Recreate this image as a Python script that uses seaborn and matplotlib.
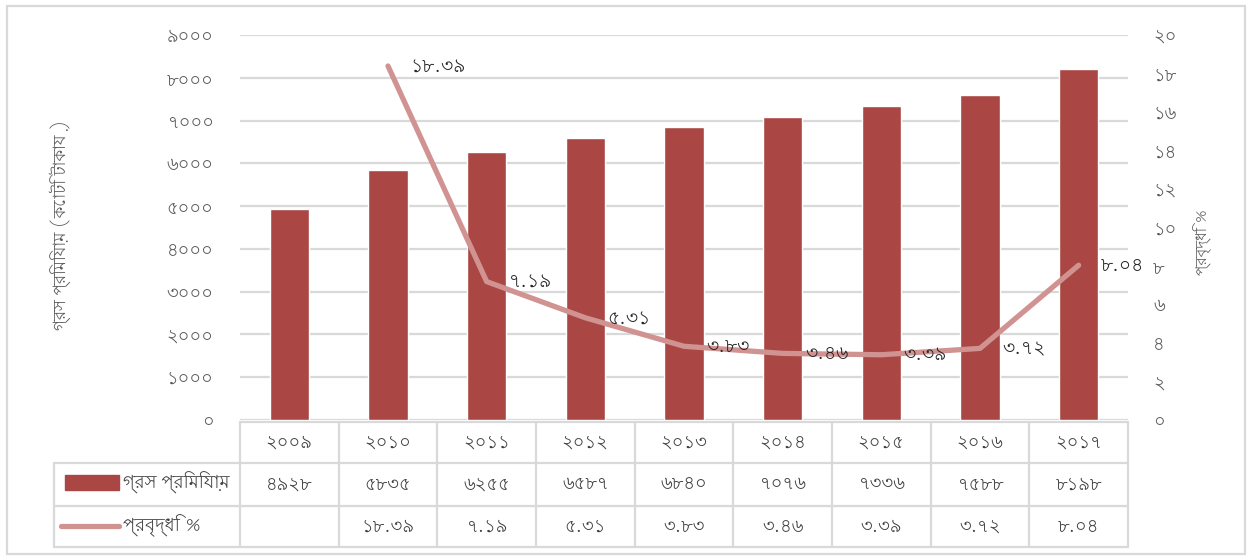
import matplotlib
matplotlib.use("Agg")
import matplotlib.pyplot as plt
from matplotlib import font_manager as fm
from matplotlib.ft2font import FT2Font
from matplotlib.patches import Rectangle
from matplotlib.lines import Line2D
import seaborn as sns
import pandas as pd

# Data
years = [2009, 2010, 2011, 2012, 2013, 2014, 2015, 2016, 2017]
gross_premium = [4928, 5835, 6255, 6587, 6840, 7076, 7336, 7588, 8198]
growth_years = [2010, 2011, 2012, 2013, 2014, 2015, 2016, 2017]
growth_pct = [18.39, 7.19, 5.31, 3.83, 3.46, 3.39, 3.72, 8.04]

premium_label = "গ্রস প্রিমিয়াম"
growth_label = "প্রবৃদ্ধি %"
left_title = "গ্রস প্রিমিয়াম (কোটি টাকায় )"
left_ticks = list(range(0, 9001, 1000))
right_ticks = list(range(0, 21, 2))

BN_DIGITS = str.maketrans("0123456789", "০১২৩৪৫৬৭৮৯")


def bn(value):
    return str(value).translate(BN_DIGITS)


def find_bengali_font():
    """Pick an installed proportional font that covers the Bengali block."""
    found = []
    for entry in fm.fontManager.ttflist:
        try:
            if 0x0995 in FT2Font(entry.fname).get_charmap():
                found.append(entry)
        except Exception:
            continue

    def rank(e):
        name = e.name.lower()
        score = 0
        if "mono" in name:
            score += 10
        if "bengali" in name or "bangla" in name:
            score -= 5
        if "serif" in name:
            score += 2
        if e.weight not in ("normal", 400, "regular", "book"):
            score += 1
        if e.style != "normal":
            score += 3
        return score

    found.sort(key=rank)
    return found[0].name if found else None


sns.set_theme(style="white")
bengali = find_bengali_font()
families = ([bengali] if bengali else []) + ["DejaVu Sans"]
plt.rcParams["font.family"] = families

BAR = "#AA4643"
LINE = "#D09391"
GRID = "#D9D9D9"
TXT = "#595959"
TICK_FS = 13
TABLE_FS = 13
LABEL_FS = 13.5

W, H = 1252, 560
fig = plt.figure(figsize=(W / 100, H / 100), dpi=100)
fig.patch.set_facecolor("white")

# main plot area in pixels: x 240..1128, y 35..420
ax = fig.add_axes([240 / W, (H - 420) / H, 888 / W, 385 / H])
ax2 = ax.twinx()

df_bar = pd.DataFrame({"year": [bn(y) for y in years], "premium": gross_premium})
sns.barplot(data=df_bar, x="year", y="premium", ax=ax, color=BAR,
            width=0.4, saturation=1, zorder=3)
ax.set_xlim(-0.5, len(years) - 0.5)
ax.set_ylim(0, 9000)
ax.set_yticks(left_ticks)
ax.set_yticklabels([bn(t) for t in left_ticks], color=TXT, fontsize=TICK_FS)
ax.tick_params(axis="y", length=0, pad=19)
ax.tick_params(axis="x", length=0, labelbottom=False)
ax.set_xlabel("")
ax.set_ylabel("")
ax.grid(axis="y", color=GRID, linewidth=1.6, zorder=0)
ax.set_axisbelow(True)
for s in ax.spines.values():
    s.set_visible(False)

pos = [years.index(y) for y in growth_years]
df_line = pd.DataFrame({"pos": pos, "growth": growth_pct})
sns.lineplot(data=df_line, x="pos", y="growth", ax=ax2, color=LINE,
             linewidth=3.8, solid_capstyle="round", solid_joinstyle="round",
             zorder=4)
ax2.set_ylim(0, 20)
ax2.set_yticks(right_ticks)
ax2.set_yticklabels([bn(t) for t in right_ticks], color=TXT, fontsize=TICK_FS)
ax2.tick_params(axis="y", length=0, pad=18)
ax2.set_ylabel("")
ax2.set_xlabel("")
ax2.grid(False)
for s in ax2.spines.values():
    s.set_visible(False)

for p, g in zip(pos, growth_pct):
    ax2.annotate(bn(f"{g:.2f}"), (p, g), xytext=(16, 0),
                 textcoords="offset points", ha="left", va="center",
                 fontsize=LABEL_FS, color="#262626", zorder=5)

# overlay in pixel coordinates for the data table and frame
ov = fig.add_axes([0, 0, 1, 1], zorder=-1)
ov.set_xlim(0, W)
ov.set_ylim(H, 0)
ov.axis("off")
fig.canvas.draw()


def px(xdata):
    disp = ax.transData.transform((xdata, 0))
    return ov.transData.inverted().transform(disp)[0]


col_edges = [px(i - 0.5) for i in range(len(years) + 1)]
row_y = [422, 463, 506, 547]
left_edge = 54
lw = 1.6

ov.add_line(Line2D([col_edges[0], col_edges[-1]], [row_y[0]] * 2, color=GRID, lw=lw))
for y in row_y[1:]:
    ov.add_line(Line2D([left_edge, col_edges[-1]], [y, y], color=GRID, lw=lw))
for xe in col_edges:
    ov.add_line(Line2D([xe, xe], [row_y[0], row_y[-1]], color=GRID, lw=lw))
ov.add_line(Line2D([left_edge, left_edge], [row_y[1], row_y[-1]], color=GRID, lw=lw))

for i, y in enumerate(years):
    cx = (col_edges[i] + col_edges[i + 1]) / 2
    ov.text(cx, (row_y[0] + row_y[1]) / 2, bn(y), ha="center", va="center",
            fontsize=TABLE_FS, color="#404040")
    ov.text(cx, (row_y[1] + row_y[2]) / 2, bn(gross_premium[i]), ha="center",
            va="center", fontsize=TABLE_FS, color="#404040")
    if y in growth_years:
        g = growth_pct[growth_years.index(y)]
        ov.text(cx, (row_y[2] + row_y[3]) / 2, bn(f"{g:.2f}"), ha="center",
                va="center", fontsize=TABLE_FS, color="#404040")

# legend keys inside the table
ov.add_patch(Rectangle((65, 475), 54, 15, color=BAR))
ov.add_line(Line2D([61, 119], [526, 526], color=LINE, lw=3.8, solid_capstyle="round"))
ov.text(123, 483, premium_label, ha="left", va="center", fontsize=13, color="#404040")
ov.text(123, 526, growth_label, ha="left", va="center", fontsize=13, color="#404040")

# axis titles
ov.text(60, 225, left_title, rotation=90, ha="center", va="center",
        fontsize=12, color=TXT)
ov.text(1203, 242, growth_label, rotation=90, ha="center", va="center",
        fontsize=11, color=TXT)

# outer frame
ov.add_patch(Rectangle((7, 6), W - 14, H - 12, fill=False, edgecolor=GRID, lw=1.6))

fig.savefig("out.png", dpi=100, facecolor="white")
